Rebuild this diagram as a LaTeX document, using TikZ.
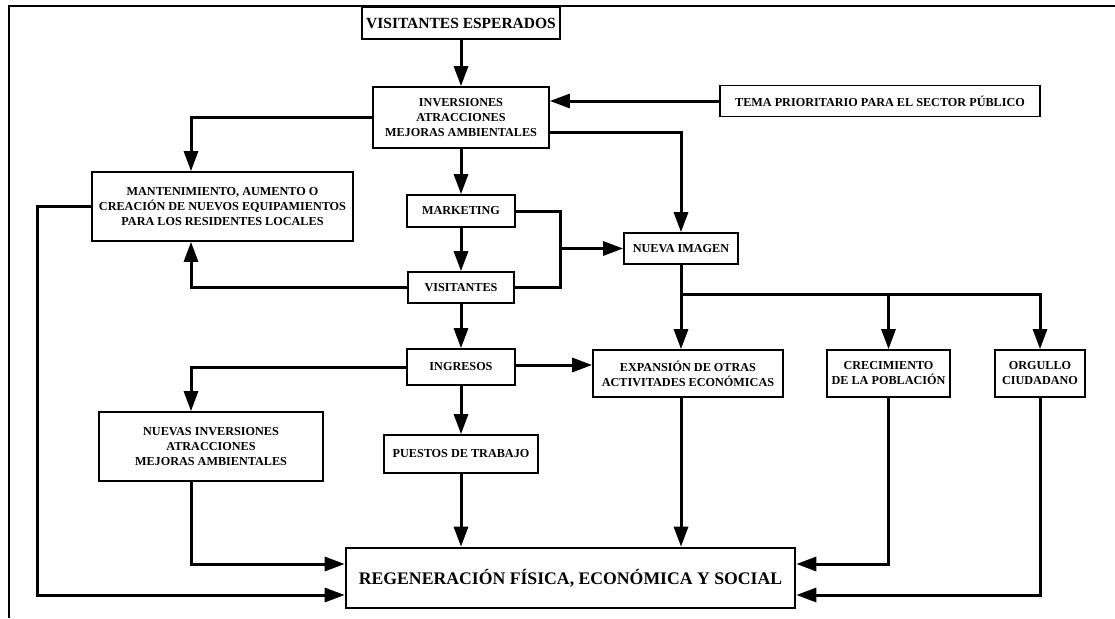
\documentclass[tikz,border=0pt]{standalone}
\usepackage{fontspec}
\setmainfont{Liberation Serif}
\usetikzlibrary{arrows.meta,calc}
\begin{document}
\begin{tikzpicture}[x=1pt,y=-1pt,
  box/.style={draw,line width=1.7pt,align=center,inner sep=0pt,
    font=\bfseries\fontsize{12.2}{15}\selectfont},
  conn/.style={line width=3pt},
  arr/.style={conn,-{Triangle[length=20pt,width=14pt]}},
  frame/.style={line width=1.5pt},
]
\useasboundingbox (0,0) rectangle (1115,618);
% frame
\coordinate (fa) at (9,618);
\coordinate (fb) at (9,6);
\coordinate (fc) at (1115,6);
\draw[frame] (fa) -- (fb) -- (fc);
% helper columns
\coordinate (lx) at (191,0);
\coordinate (bx) at (560,0);
\coordinate (fx) at (37,0);
\coordinate (br) at (681,294);
% nodes
\node[box,minimum width=198pt,minimum height=32pt,font=\bfseries\fontsize{15.5}{18}\selectfont] (ve) at (461,23) {VISITANTES ESPERADOS};
\node[box,minimum width=176pt,minimum height=61pt] (inv) at (461,117.5) {INVERSIONES\\ATRACCIONES\\MEJORAS AMBIENTALES};
\node[box,minimum width=320pt,minimum height=31pt] (tema) at (880,101) {TEMA PRIORITARIO PARA EL SECTOR PÚBLICO};
\node[box,minimum width=261pt,minimum height=69pt] (mant) at (222.5,206.5) {MANTENIMIENTO, AUMENTO O\\CREACIÓN DE NUEVOS EQUIPAMIENTOS\\PARA LOS RESIDENTES LOCALES};
\node[box,minimum width=108pt,minimum height=32pt] (mk) at (461,211) {MARKETING};
\node[box,minimum width=114pt,minimum height=31pt] (nueva) at (681,248.5) {NUEVA IMAGEN};
\node[box,minimum width=106pt,minimum height=31pt] (vis) at (461,287.5) {VISITANTES};
\node[box,minimum width=108pt,minimum height=36pt] (ing) at (461,367) {INGRESOS};
\node[box,minimum width=190pt,minimum height=47pt] (exp) at (688,373.5) {EXPANSIÓN DE OTRAS\\ACTIVITADES ECONÓMICAS};
\node[box,minimum width=123pt,minimum height=47pt] (crec) at (888.5,373.5) {CRECIMIENTO\\DE LA POBLACIÓN};
\node[box,minimum width=90pt,minimum height=47pt] (org) at (1040,373.5) {ORGULLO\\CIUDADANO};
\node[box,minimum width=224pt,minimum height=69pt] (nin) at (211,446.5) {NUEVAS INVERSIONES\\ATRACCIONES\\MEJORAS AMBIENTALES};
\node[box,minimum width=154pt,minimum height=38pt] (put) at (461,454) {PUESTOS DE TRABAJO};
\node[box,line width=2.6pt,minimum width=449pt,minimum height=60pt,font=\bfseries\fontsize{17.7}{20}\selectfont] (reg) at (570.5,578) {REGENERACIÓN FÍSICA, ECONÓMICA Y SOCIAL};
% connectors
\draw[arr] (ve.south) -- (inv.north);
\draw[arr] (tema.west) -- (tema.west -| inv.east);
\draw[arr] (inv.west) -| (mant.north -| lx);
\draw[arr] ([yshift=-15pt]inv.east) -| (nueva.north);
\draw[arr] (inv.south) -- (mk.north);
\draw[conn] (mk.east) -| (bx |- vis.east) -- (vis.east);
\draw[arr] (bx |- nueva.west) -- (nueva.west);
\draw[arr] (mk.south) -- (vis.north);
\draw[arr] (vis.west) -| (mant.south -| lx);
\draw[arr] (vis.south) -- (ing.north);
\draw[arr] (ing.west) -| (nin.north -| lx);
\draw[arr] ([yshift=2pt]ing.east) -- ([yshift=2pt]ing.east -| exp.west);
\draw[arr] (ing.south) -- (put.north);
\draw[conn] (nueva.south) -- (br);
\draw[arr] (br) -- (br |- exp.north);
\draw[arr] (br) -| (org.north);
\draw[arr] (br -| crec.north) -- (crec.north);
\draw[arr] (mant.west) -- (mant.west -| fx) |- ([yshift=-17pt]reg.west);
\draw[arr] (nin.south -| lx) |- ([yshift=14pt]reg.west);
\draw[arr] (put.south) -- (put.south |- reg.north);
\draw[arr] (exp.south -| br) -- (reg.north -| br);
\draw[arr] (crec.south) |- ([yshift=14pt]reg.east);
\draw[arr] (org.south) |- ([yshift=-17pt]reg.east);
\end{tikzpicture}
\end{document}
